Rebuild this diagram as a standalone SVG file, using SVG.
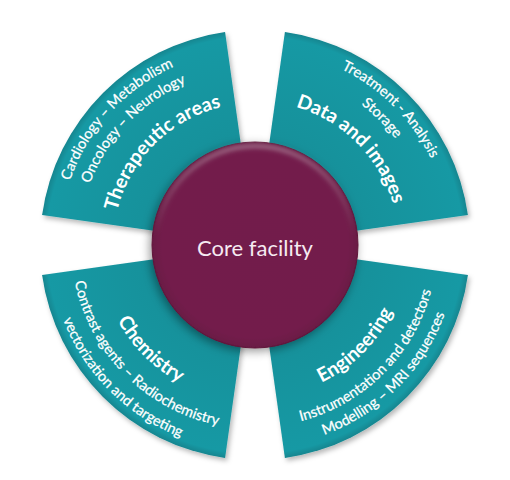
<svg xmlns="http://www.w3.org/2000/svg" width="510" height="480" viewBox="0 0 510 480">
  <defs>
    <radialGradient id="teal" gradientUnits="userSpaceOnUse" cx="255" cy="245" r="215">
      <stop offset="0" stop-color="#11868f"/>
      <stop offset="0.55" stop-color="#15929c"/>
      <stop offset="0.97" stop-color="#1899a4"/>
      <stop offset="1" stop-color="#12858f"/>
    </radialGradient>
    <radialGradient id="core" cx="50%" cy="50%" r="50%">
      <stop offset="0" stop-color="#721e4b"/>
      <stop offset="0.9" stop-color="#731f4c"/>
      <stop offset="1" stop-color="#6a1944"/>
    </radialGradient>
    <linearGradient id="rim" x1="0" y1="0" x2="0" y2="1">
      <stop offset="0" stop-color="#ffffff" stop-opacity="0.3"/>
      <stop offset="0.45" stop-color="#ffffff" stop-opacity="0"/>
    </linearGradient>
    <filter id="shadow" x="-10%" y="-10%" width="120%" height="120%">
      <feDropShadow dx="2" dy="3" stdDeviation="2.5" flood-color="#000" flood-opacity="0.28"/>
    </filter>
    <filter id="cshadow" x="-20%" y="-20%" width="140%" height="140%">
      <feDropShadow dx="-2" dy="3" stdDeviation="5" flood-color="#000" flood-opacity="0.4"/>
    </filter>
    <filter id="soft" x="-10%" y="-10%" width="120%" height="120%">
      <feGaussianBlur stdDeviation="2"/>
    </filter>
    <path id="tl1" d="M59,245 A196,196 0 0 1 255,49"/>
    <path id="tl2" d="M79,245 A176,176 0 0 1 255,69"/>
    <path id="tl3" d="M113,245 A142,142 0 0 1 255,103"/>
    <path id="tr1" d="M255,49 A196,196 0 0 1 451,245"/>
    <path id="tr2" d="M255,69 A176,176 0 0 1 431,245"/>
    <path id="tr3" d="M255,101 A144,144 0 0 1 399,245"/>
    <path id="bl1" d="M98,245 A157,157 0 0 0 255,402"/>
    <path id="bl2" d="M71,245 A184,184 0 0 0 255,429"/>
    <path id="bl3" d="M49,245 A206,206 0 0 0 255,451"/>
    <path id="br1" d="M255,398 A153,153 0 0 0 408,245"/>
    <path id="br2" d="M255,427 A182,182 0 0 0 437,245"/>
    <path id="br3" d="M255,447 A202,202 0 0 0 457,245"/>
  </defs>
  <style>
    .sector { fill: url(#teal); filter: url(#shadow); }
    .t { font-family: Lato, "Open Sans", sans-serif; fill: #ffffff; text-anchor: middle; }
    .s { font-size: 14.5px; stroke: #ffffff; stroke-width: 0.25px; }
    .b { font-size: 19.5px; font-weight: bold; }
    .core { font-family: Lato, "Open Sans", sans-serif; font-size: 22px; fill: #f6eaf1; text-anchor: middle; }
  </style>
  <g id="connectors"/>
  <g id="therapeutic-areas">
    <path class="sector" d="M255,245 L42.09,215.08 A215,215 0 0 1 225.08,32.09 Z"/>
    <text class="t s"><textPath href="#tl1" startOffset="47%">Cardiology – Metabolism</textPath></text>
    <text class="t s"><textPath href="#tl2" startOffset="48.5%">Oncology – Neurology</textPath></text>
    <text class="t b"><textPath href="#tl3" startOffset="50%">Therapeutic areas</textPath></text>
  </g>
  <g id="data-and-images">
    <path class="sector" d="M255,245 L284.92,32.09 A215,215 0 0 1 467.91,215.08 Z"/>
    <text class="t s"><textPath href="#tr1" startOffset="50%">Treatment - Analysis</textPath></text>
    <text class="t s"><textPath href="#tr2" startOffset="50%">Storage</textPath></text>
    <text class="t b"><textPath href="#tr3" startOffset="50%">Data and images</textPath></text>
  </g>
  <g id="engineering">
    <path class="sector" d="M255,245 L467.91,274.92 A215,215 0 0 1 284.92,457.91 Z"/>
    <text class="t b"><textPath href="#br1" startOffset="50%">Engineering</textPath></text>
    <text class="t s"><textPath href="#br2" startOffset="50%">Instrumentation and detectors</textPath></text>
    <text class="t s"><textPath href="#br3" startOffset="50%">Modelling – MRI sequences</textPath></text>
  </g>
  <g id="chemistry">
    <path class="sector" d="M255,245 L225.08,457.91 A215,215 0 0 1 42.09,274.92 Z"/>
    <text class="t b"><textPath href="#bl1" startOffset="50%">Chemistry</textPath></text>
    <text class="t s"><textPath href="#bl2" startOffset="50%">Contrast agents – Radiochemistry</textPath></text>
    <text class="t s"><textPath href="#bl3" startOffset="50%">vectorization and targeting</textPath></text>
  </g>
  <g id="core-facility">
    <circle cx="255" cy="245" r="103" fill="url(#core)" stroke="#5e1639" stroke-width="1" filter="url(#cshadow)"/>
    <circle cx="255" cy="245" r="99" fill="none" stroke="url(#rim)" stroke-width="5" filter="url(#soft)"/>
    <text class="core" x="255" y="256">Core facility</text>
  </g>
</svg>
